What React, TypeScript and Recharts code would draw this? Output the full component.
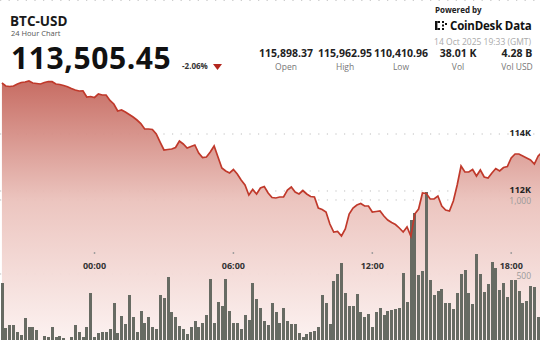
import React from "react";
import {
  ComposedChart,
  Area,
  Bar,
  Line,
  XAxis,
  YAxis,
  CartesianGrid,
} from "recharts";

// 10 minute buckets, starting 20:00 the day before
const times: string[] = Array.from({ length: 141 }, (_, i) => {
  const m = (20 * 60 + i * 10) % 1440;
  return `${String(Math.floor(m / 60)).padStart(2, "0")}:${String(m % 60).padStart(2, "0")}`;
});

const prices = [
  115790, 115684, 115667, 115684, 115755, 115807, 115825, 115860, 115790, 115772,
  115755, 115807, 115842, 115835, 115755, 115737, 115702, 115660, 115597, 115544,
  115509, 115516, 115298, 115316, 115281, 115404, 115369, 115369, 115176, 115053,
  114807, 114842, 114772, 114684, 114597, 114491, 114368, 114175, 114175, 114158,
  114000, 113719, 113439, 113456, 113474, 113526, 113754, 113649, 113509, 113561,
  113614, 113333, 113175, 113193, 113368, 113579, 113193, 112807, 112702, 112632,
  112754, 112596, 112386, 112210, 111859, 112053, 111895, 112105, 112158, 111930,
  111772, 111754, 111789, 111789, 112035, 112140, 111965, 111895, 112017, 111895,
  111807, 111789, 111403, 111351, 111263, 110842, 110561, 110579, 110421, 110666,
  111193, 111403, 111509, 111561, 111474, 111474, 111263, 111281, 111298, 111123,
  110982, 110895, 110824, 110702, 110561, 110737, 110411, 111193, 111368, 111930,
  111912, 111719, 111719, 111824, 111474, 111333, 111298, 111649, 112210, 112877,
  112667, 112667, 112754, 112526, 112737, 112491, 112456, 112632, 112789, 112702,
  112824, 112860, 113158, 113298, 113298, 113228, 113158, 113088, 112947, 113228,
  113368,
];

const volumes = [
  439, 135, 155, 155, 108, 88, 203, 142, 142, 122,
  54, 81, 74, 142, 74, 81, 68, 54, 74, 155,
  108, 74, 142, 372, 74, 101, 108, 108, 128, 304,
  101, 216, 162, 358, 209, 108, 250, 169, 209, 142,
  128, 358, 338, 480, 243, 209, 149, 128, 95, 142,
  182, 142, 169, 223, 466, 169, 311, 284, 466, 250,
  169, 169, 128, 223, 189, 439, 331, 270, 182, 155,
  304, 243, 169, 270, 182, 162, 162, 101, 74, 95,
  108, 115, 142, 358, 304, 162, 453, 500, 574, 372,
  284, 284, 365, 243, 209, 230, 142, 243, 270, 223,
  250, 257, 264, 270, 507, 311, 865, 912, 493, 520,
  1054, 459, 358, 385, 399, 304, 304, 264, 372, 500,
  527, 372, 297, 635, 500, 378, 432, 581, 541, 392,
  439, 345, 459, 459, 385, 304, 318, 419, 412, 209,
  236,
];

const timeTicks = ["00:00", "06:00", "12:00", "18:00"];
const priceTicks = [112000, 114000];
const volumeTicks = [500, 1000];

const statValues = ["115,898.37", "115,962.95", "110,410.96", "38.01 K", "4.28 B"];
const statLabels = ["Open", "High", "Low", "Vol", "Vol USD"];
const statCenters = [286, 345, 401, 458, 517];

const data = times.map((t, i) => ({ time: t, price: prices[i], vol: volumes[i] }));

const FONT = "'Open Sans', 'Noto Sans', sans-serif";

const TimeTick = (props: any) => {
  const { x, y, payload } = props;
  return (
    <g>
      <circle cx={x} cy={y - 95} r={0.9} fill="#9a9a9a" />
      <text x={x} y={y - 79} textAnchor="middle" fontSize={9} fontWeight={700} fill="#333" fontFamily={FONT}>
        {payload.value}
      </text>
    </g>
  );
};

const Header = () => (
  <svg width={540} height={80} style={{ position: "absolute", top: 0, left: 0, pointerEvents: "none" }} fontFamily={FONT}>
    <text x={10} y={25.5} fontSize={13.5} fontWeight={700} fill="#1a1a1a">BTC-USD</text>
    <text x={11} y={36} fontSize={7.5} fill="#555">24 Hour Chart</text>
    <text x={11} y={68.5} fontSize={30} fontWeight={700} fill="#111" letterSpacing={0.6}>113,505.45</text>
    <text x={182} y={69} fontSize={8} fontWeight={700} fill="#333">-2.06%</text>
    <polygon points="213,64 222,64 217.5,70" fill="#b3261e" />

    <text x={435} y={13} fontSize={8} fontWeight={700} fill="#222">Powered by</text>
    <g fill="#111">
      <rect x={435} y={21} width={2.4} height={9} />
      <rect x={437.4} y={21} width={2.6} height={2} />
      <rect x={437.4} y={28} width={2.6} height={2} />
      <rect x={442} y={21} width={2} height={2} />
      <rect x={442} y={24.5} width={2} height={2} />
      <rect x={445} y={23} width={2} height={2} />
      <rect x={442} y={28} width={2} height={2} />
    </g>
    <text x={450} y={30} fontSize={11.5} fontWeight={700} fill="#111" letterSpacing={-0.2}>CoinDesk Data</text>
    <text x={531} y={45} fontSize={8.5} fill="#aaa" textAnchor="end">14 Oct 2025 19:33 (GMT)</text>

    {statValues.map((v, i) => (
      <text key={v} x={statCenters[i]} y={57} fontSize={10.5} fontWeight={700} fill="#222" textAnchor="middle">{v}</text>
    ))}
    {statLabels.map((l, i) => (
      <text key={l} x={statCenters[i]} y={70} fontSize={8.5} fill="#777" textAnchor="middle">{l}</text>
    ))}
  </svg>
);

export default function App() {
  return (
    <div style={{ position: "fixed", top: 0, left: 0, width: 540, height: 340, overflow: "hidden", background: "#fff" }}>
      <ComposedChart width={544} height={349} data={data} margin={{ top: 0, right: 0, bottom: 0, left: 0 }} barCategoryGap="16%">
        <defs>
          <linearGradient id="priceFill" x1="0" y1="0" x2="0" y2="1">
            <stop offset="0%" stopColor="#c4655b" />
            <stop offset="45%" stopColor="#ebc2bc" />
            <stop offset="100%" stopColor="#fdf4f3" />
          </linearGradient>
        </defs>
        <CartesianGrid yAxisId="price" vertical={false} stroke="#bdbdbd" strokeDasharray="1.2 7.4" />
        <CartesianGrid yAxisId="vol" vertical={false} stroke="#bdbdbd" strokeDasharray="1.2 7.4" />
        <XAxis
          dataKey="time"
          ticks={timeTicks}
          interval={0}
          height={1}
          tickSize={0}
          tickMargin={0}
          axisLine={false}
          tickLine={false}
          tick={<TimeTick />}
        />
        <YAxis
          yAxisId="price"
          orientation="right"
          mirror
          width={1}
          domain={[106491, 118702]}
          allowDataOverflow
          ticks={priceTicks}
          tickFormatter={(v: number) => `${v / 1000}K`}
          axisLine={false}
          tickLine={false}
          tickSize={0}
          tickMargin={13}
          tick={{ fontSize: 9, fontWeight: 700, fill: "#222", fontFamily: FONT, dy: -1 }}
        />
        <YAxis
          yAxisId="vol"
          orientation="right"
          mirror
          width={1}
          domain={[0, 2351]}
          allowDataOverflow
          ticks={volumeTicks}
          tickFormatter={(v: number) => v.toLocaleString("en-US")}
          axisLine={false}
          tickLine={false}
          tickSize={0}
          tickMargin={12}
          tick={{ fontSize: 8.5, fill: "#9a9a9a", fontFamily: FONT, dy: 1.5 }}
        />
        <Area
          yAxisId="price"
          type="linear"
          dataKey="price"
          stroke="none"
          fill="url(#priceFill)"
          fillOpacity={0.95}
          dot={false}
          activeDot={false}
          isAnimationActive={false}
        />
        <Bar yAxisId="vol" dataKey="vol" fill="#676b63" shapeRendering="crispEdges" isAnimationActive={false} />
        <Line
          yAxisId="price"
          type="linear"
          dataKey="price"
          stroke="#c0392b"
          strokeWidth={1.7}
          dot={false}
          activeDot={false}
          isAnimationActive={false}
        />
      </ComposedChart>
      <Header />
    </div>
  );
}
